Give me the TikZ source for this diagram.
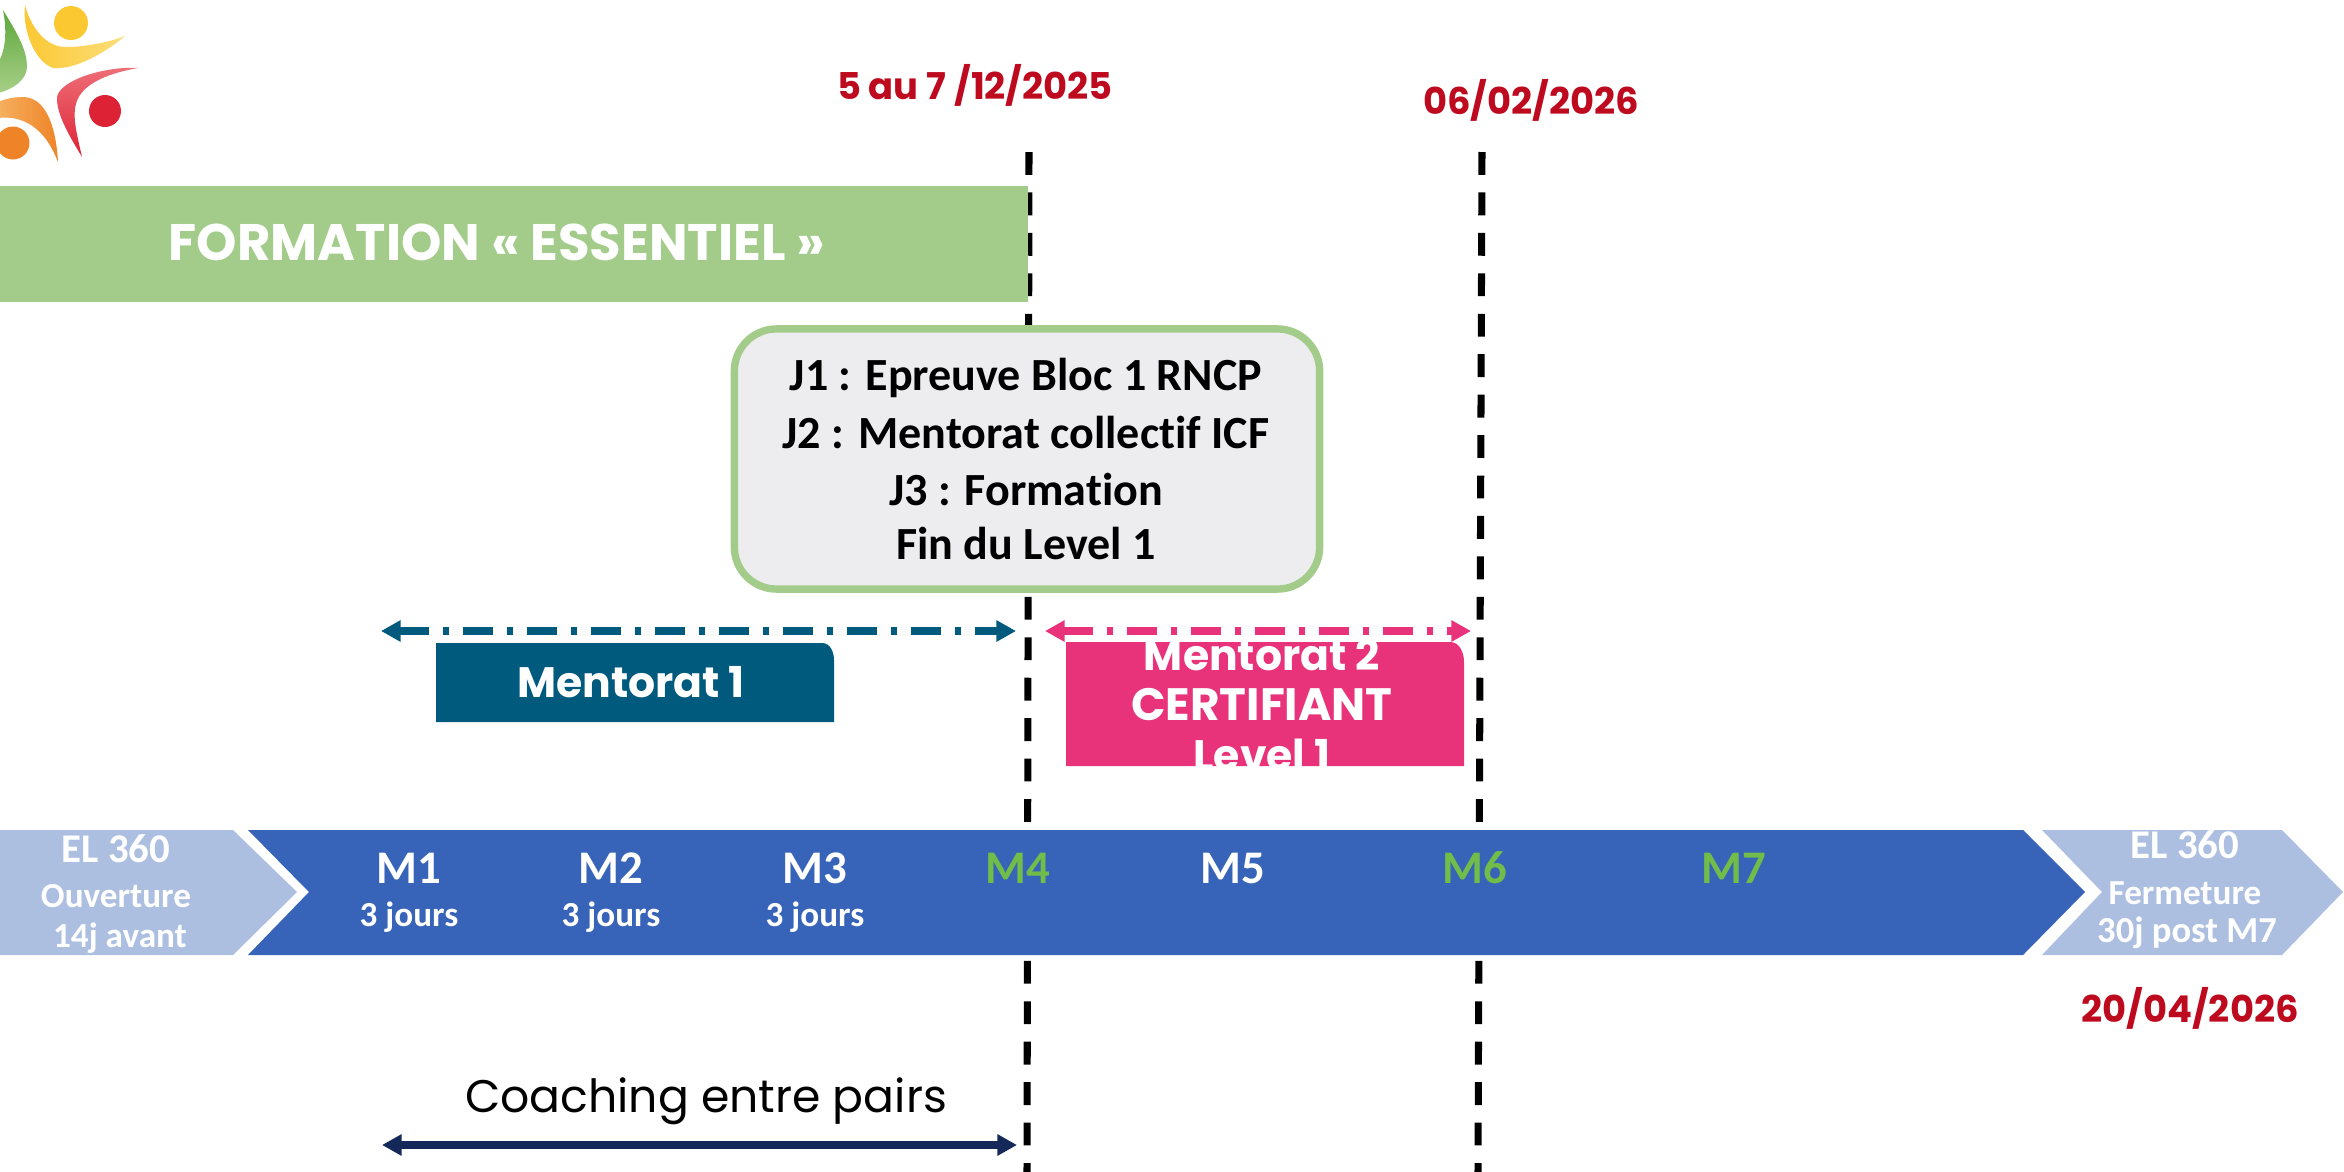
\documentclass[tikz,border=0pt]{standalone}
\usepackage{fontspec}
\setmainfont{Carlito}[Ligatures=NoCommon]
\newfontfamily\popfont{Poppins}
\usetikzlibrary{arrows.meta}
\definecolor{formgreen}{HTML}{A3CC8B}
\definecolor{cardgrey}{HTML}{EDEDF0}
\definecolor{mteal}{HTML}{005A7D}
\definecolor{mpink}{HTML}{E8337B}
\definecolor{bandblue}{HTML}{3764B8}
\definecolor{bandlight}{HTML}{ADBFE1}
\definecolor{datered}{HTML}{BE0A1E}
\definecolor{monthgreen}{HTML}{72BC4A}
\definecolor{navyline}{HTML}{14285A}
\definecolor{logogreen}{HTML}{5DA63A}
\definecolor{logogreenlt}{HTML}{A8D088}
\definecolor{logoyellow}{HTML}{FBC832}
\definecolor{logoyellowlt}{HTML}{FBDD7A}
\definecolor{logored}{HTML}{DE2236}
\definecolor{logoredlt}{HTML}{EE7078}
\definecolor{logoorange}{HTML}{EE8427}
\definecolor{logoorangelt}{HTML}{F6B060}
\tikzset{
    datelabel/.style={text=datered, font=\popfont\bfseries\fontsize{10.5}{12}\selectfont},
    boxlabel/.style={text=white, font=\popfont\bfseries\fontsize{12.1}{14}\selectfont},
    month/.style={text=white, font=\bfseries\fontsize{13.3}{15}\selectfont},
    monthgr/.style={month, text=monthgreen},
    days/.style={text=white, font=\bfseries\fontsize{10}{12}\selectfont},
    endlabel/.style={text=white, font=\bfseries\fontsize{10}{12}\selectfont},
    cardline/.style={font=\bfseries\fontsize{13.1}{15}\selectfont},
    milestone/.style={black, line width=2pt, dash pattern=on 6.5pt off 5pt},
    mentorline/.style={line width=2pt, dash pattern=on 8.5pt off 4pt on 1.7pt off 4pt, {Triangle[length=5.6pt,width=5.8pt]}-{Triangle[length=5.6pt,width=5.8pt]}},
}
\begin{document}
\begin{tikzpicture}[x=0.01cm, y=-0.01cm]
    \useasboundingbox (0,0) rectangle (2344,1172);
    % logo
    \shade[top color=logogreen, bottom color=logogreenlt] (3,10) .. controls (15,30) and (27,48) .. (27,67) .. controls (27,80) and (12,90) .. (-2,93) -- (-2,63) .. controls (6,50) and (7,30) .. cycle;
    \shade[left color=logoyellow, right color=logoyellowlt] (25,5) .. controls (30,25) and (45,48) .. (67,47) .. controls (85,47) and (110,42) .. (125,36) .. controls (105,53) and (75,70) .. (53,68) .. controls (35,62) and (22,30) .. cycle;
    \fill[logoyellow] (71,23) circle (17);
    \shade[top color=logoredlt, bottom color=logored] (138,68) .. controls (105,66) and (60,80) .. (57,97) .. controls (56,115) and (72,140) .. (82,157) .. controls (76,130) and (70,110) .. (80,95) .. controls (90,80) and (115,72) .. cycle;
    \fill[logored] (105,111) circle (16);
    \shade[left color=logoorangelt, right color=logoorange] (58,162) .. controls (56,125) and (45,97) .. (23,97) .. controls (13,97) and (5,99) .. (-2,102) -- (-2,118) .. controls (15,116) and (42,120) .. cycle;
    \fill[logoorange] (13,143) circle (16.5);
    % lines behind everything
    \coordinate (m4top) at (1029,152);
    \coordinate (m4bot) at (1027,1172);
    \coordinate (m6top) at (1482,152);
    \coordinate (m6bot) at (1478,1172);
    \draw[milestone] (m4top) -- (m4bot);
    \draw[milestone] (m6top) -- (m6bot);
    \node[datelabel] (date1) at (975,85) {5 au 7 /12/2025};
    \node[datelabel] (date2) at (1531,100) {06/02/2026};
    \node[datelabel] (date3) at (2190,1008) {20/04/2026};
    % formation
    \fill[formgreen] (-2,186) rectangle (1028,302);
    \node[boxlabel, font=\popfont\bfseries\fontsize{14.6}{17}\selectfont] (formation) at (497,242) {FORMATION « ESSENTIEL »};
    \node[draw=formgreen, fill=cardgrey, line width=2.1pt, rounded corners=12pt, minimum width=5.85cm, minimum height=2.6cm] (card) at (1027,459) {};
    \node[cardline] (j1) at (1026,378) {J1 : Epreuve Bloc 1 RNCP};
    \node[cardline] (j2) at (1026,432) {J2 : Mentorat collectif ICF};
    \node[cardline] (j3) at (1026,489) {J3 : Formation};
    \node[cardline] (j4) at (1026,543) {Fin du Level 1};
    % mentorat
    \fill[mteal] (436,643) -- (822,643) to[out=0,in=90] (834,660) -- (834,722) -- (436,722) -- cycle;
    \node[boxlabel] (ment1) at (631,682) {Mentorat 1};
    \fill[mpink] (1066,642) -- (1450,642) to[out=0,in=90] (1464,662) -- (1464,766) -- (1066,766) -- cycle;
    \node[boxlabel] (ment2a) at (1262,655) {Mentorat 2};
    \node[boxlabel, font=\popfont\bfseries\fontsize{12.9}{14}\selectfont] (ment2b) at (1262,704) {CERTIFIANT};
    \node[boxlabel] (ment2c) at (1262,755) {Level 1};
    \coordinate (t1) at (381,631);
    \coordinate (t2) at (1016,631);
    \coordinate (p1) at (1045,631);
    \coordinate (p2) at (1471,631);
    \draw[mentorline, mteal] (t1) -- (t2);
    \draw[mentorline, mpink] (p1) -- (p2);
    % band
    \fill[bandlight] (-2,830) -- (233,830) -- (297,892) -- (233,955) -- (-2,955) -- cycle;
    \fill[bandblue] (248,830) -- (2023,830) -- (2085,892) -- (2023,955) -- (248,955) -- (309,892) -- cycle;
    \fill[bandlight] (2042,830) -- (2282,830) -- (2343,892) -- (2282,955) -- (2042,955) -- (2102,892) -- cycle;
    \node[endlabel, font=\bfseries\fontsize{11.6}{13}\selectfont] (elA) at (116,849) {EL 360};
    \node[endlabel] (ouv) at (116,896) {Ouverture};
    \node[endlabel] (avant) at (120,938) {14j avant};
    \node[endlabel, font=\bfseries\fontsize{11.6}{13}\selectfont] (elB) at (2185,845) {EL 360};
    \node[endlabel] (ferm) at (2185,893) {Fermeture};
    \node[endlabel, font=\bfseries\fontsize{10.4}{12}\selectfont] (post) at (2187,933) {30j post M7};
    \node[month] (m1) at (409,868) {M1};
    \node[month] (m2) at (611,868) {M2};
    \node[month] (m3) at (815,868) {M3};
    \node[monthgr] (m4) at (1018,868) {M4};
    \node[month] (m5) at (1233,868) {M5};
    \node[monthgr] (m6) at (1475,868) {M6};
    \node[monthgr] (m7) at (1734,868) {M7};
    \node[days] (d1) at (409,917) {3 jours};
    \node[days] (d2) at (611,917) {3 jours};
    \node[days] (d3) at (815,917) {3 jours};
    % coaching
    \node[font=\popfont\fontsize{13}{15}\selectfont] (coach) at (706,1101) {Coaching entre pairs};
    \coordinate (c1) at (382,1145);
    \coordinate (c2) at (1017,1145);
    \draw[navyline, line width=2pt, {Triangle[length=5.6pt,width=5.8pt]}-{Triangle[length=5.6pt,width=5.8pt]}] (c1) -- (c2);
\end{tikzpicture}
\end{document}
